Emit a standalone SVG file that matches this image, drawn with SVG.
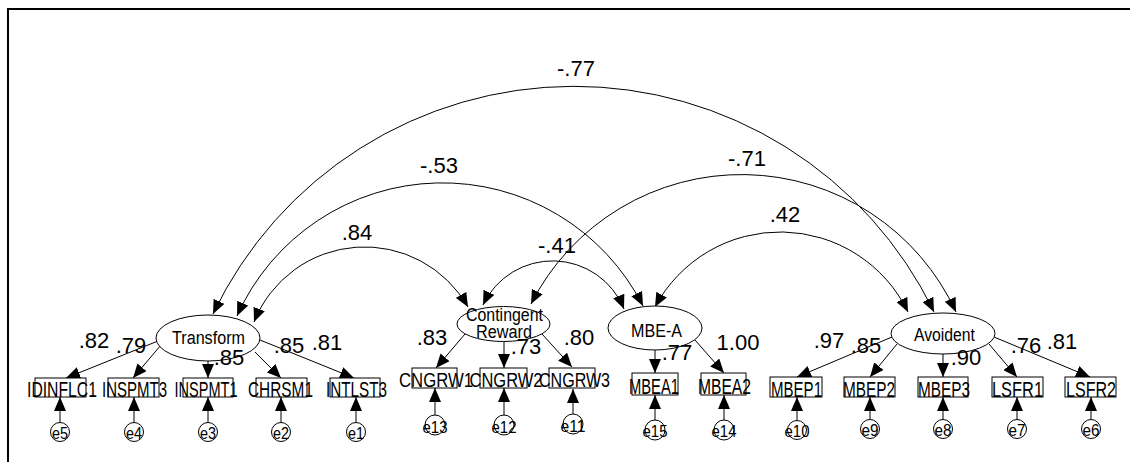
<svg xmlns="http://www.w3.org/2000/svg" width="1130" height="462" viewBox="0 0 1130 462">
  <defs>
    <marker id="ah" viewBox="0 0 14 12" refX="14" refY="6" markerWidth="14" markerHeight="12" markerUnits="userSpaceOnUse" orient="auto-start-reverse">
      <path d="M0,0 L14,6 L0,12 z" fill="#000"/>
    </marker>
    <style>
      text { font-family: "Liberation Sans", Arial, sans-serif; fill: #000; text-anchor: middle; }
      .lat { fill: #fff; stroke: #000; stroke-width: 1; }
      .obs { fill: #fff; stroke: #000; stroke-width: 1; }
      .err { fill: #fff; stroke: #000; stroke-width: 1; }
      .one { fill: none; stroke: #000; stroke-width: 1; marker-end: url(#ah); }
      .two { fill: none; stroke: #000; stroke-width: 1; marker-start: url(#ah); marker-end: url(#ah); }
      .num { font-size: 22px; }
      .ln { font-size: 18px; }
      .on { font-size: 22px; }
      .on2 { font-size: 20px; }
      .en { font-size: 17px; }
    </style>
  </defs>

  <rect width="1130" height="462" fill="#fff"/>
  <!-- frame -->
  <path d="M8,462 V9 H1130" fill="none" stroke="#000" stroke-width="2"/>

  <!-- connectors -->
  <g id="connectors">
    <!-- covariances -->
    <path class="two" d="M213,314 A400,400 0 0 1 934,312"/>
    <path class="two" d="M237,316 A225,225 0 0 1 643,306"/>
    <path class="two" d="M254,322 A119,119 0 0 1 468,307"/>
    <path class="two" d="M483,305 A77,77 0 0 1 624,309"/>
    <path class="two" d="M531,304 A236,236 0 0 1 956,312"/>
    <path class="two" d="M655,307 A142,142 0 0 1 908,312"/>
    <!-- loadings -->
    <line class="one" x1="158" y1="341" x2="66" y2="378"/>
    <line class="one" x1="161" y1="345" x2="133" y2="378"/>
    <line class="one" x1="208" y1="361" x2="208" y2="378"/>
    <line class="one" x1="255" y1="352" x2="281" y2="378"/>
    <line class="one" x1="260" y1="340" x2="354" y2="378"/>
    <line class="one" x1="465" y1="334" x2="436" y2="368"/>
    <line class="one" x1="504" y1="341" x2="504" y2="368"/>
    <line class="one" x1="542" y1="334" x2="572" y2="367"/>
    <line class="one" x1="655" y1="350" x2="655" y2="373"/>
    <line class="one" x1="695" y1="340" x2="724" y2="373"/>
    <line class="one" x1="892" y1="337" x2="797" y2="377"/>
    <line class="one" x1="897" y1="344" x2="870" y2="377"/>
    <line class="one" x1="943" y1="353" x2="943" y2="377"/>
    <line class="one" x1="989" y1="344" x2="1017" y2="377"/>
    <line class="one" x1="994" y1="337" x2="1090" y2="377"/>
    <!-- error terms -->
    <line class="one" x1="60" y1="422.5" x2="60" y2="397"/>
    <line class="one" x1="134" y1="422.5" x2="134" y2="397"/>
    <line class="one" x1="208" y1="422.5" x2="208" y2="397"/>
    <line class="one" x1="281" y1="422.5" x2="281" y2="397"/>
    <line class="one" x1="356" y1="422.5" x2="356" y2="397"/>
    <line class="one" x1="435" y1="415" x2="435" y2="388"/>
    <line class="one" x1="504" y1="415" x2="504" y2="388"/>
    <line class="one" x1="573" y1="414" x2="573" y2="389"/>
    <line class="one" x1="655" y1="420" x2="655" y2="395"/>
    <line class="one" x1="724" y1="420" x2="724" y2="395"/>
    <line class="one" x1="797" y1="420.5" x2="797" y2="397"/>
    <line class="one" x1="870" y1="419.5" x2="870" y2="397"/>
    <line class="one" x1="943" y1="419.5" x2="943" y2="397"/>
    <line class="one" x1="1017" y1="419.5" x2="1017" y2="397"/>
    <line class="one" x1="1091" y1="419.5" x2="1091" y2="397"/>
  </g>

  <!-- covariance values -->
  <g id="cov-labels">
    <text class="num" x="576" y="76">-.77</text>
    <text class="num" x="439" y="173">-.53</text>
    <text class="num" x="747" y="166">-.71</text>
    <text class="num" x="785" y="222">.42</text>
    <text class="num" x="357" y="240">.84</text>
    <text class="num" x="557" y="253">-.41</text>
  </g>

  <!-- latent variables -->
  <g id="transform">
    <ellipse class="lat" cx="208" cy="338" rx="52" ry="23"/>
    <text class="ln" x="208.5" y="344" textLength="73" lengthAdjust="spacingAndGlyphs">Transform</text>
  </g>
  <g id="contingent-reward">
    <ellipse class="lat" cx="503.5" cy="324" rx="46.5" ry="17.5"/>
    <text class="ln" x="504.5" y="321" textLength="77" lengthAdjust="spacingAndGlyphs">Contingent</text>
    <text class="ln" x="504" y="338" textLength="56" lengthAdjust="spacingAndGlyphs">Reward</text>
  </g>
  <g id="mbe-a">
    <ellipse class="lat" cx="655" cy="328" rx="47" ry="22"/>
    <text class="ln" x="656.5" y="337" textLength="51" lengthAdjust="spacingAndGlyphs">MBE-A</text>
  </g>
  <g id="avoident">
    <ellipse class="lat" cx="943" cy="333.5" rx="52" ry="20.5"/>
    <text class="ln" x="944.5" y="341" textLength="61" lengthAdjust="spacingAndGlyphs">Avoident</text>
  </g>

  <!-- observed variables -->
  <g id="idinflc1"><rect class="obs" x="35" y="378" width="51" height="19"/><text class="on" x="62" y="397" textLength="70" lengthAdjust="spacingAndGlyphs">IDINFLC1</text></g>
  <g id="inspmt3"><rect class="obs" x="108" y="378" width="51" height="19"/><text class="on" x="134.5" y="397" textLength="65" lengthAdjust="spacingAndGlyphs">INSPMT3</text></g>
  <g id="inspmt1"><rect class="obs" x="183" y="378" width="50" height="19"/><text class="on" x="206" y="397" textLength="63" lengthAdjust="spacingAndGlyphs">INSPMT1</text></g>
  <g id="chrsm1"><rect class="obs" x="256" y="378" width="51" height="19"/><text class="on" x="280.5" y="397" textLength="65" lengthAdjust="spacingAndGlyphs">CHRSM1</text></g>
  <g id="intlst3"><rect class="obs" x="330" y="378" width="50" height="19"/><text class="on" x="356.5" y="397" textLength="61" lengthAdjust="spacingAndGlyphs">INTLST3</text></g>
  <g id="cngrw1"><rect class="obs" x="412" y="368" width="45" height="20"/><text class="on2" x="436" y="387" textLength="74" lengthAdjust="spacingAndGlyphs">CNGRW1</text></g>
  <g id="cngrw2"><rect class="obs" x="480" y="368" width="47" height="20"/><text class="on2" x="506" y="387" textLength="73" lengthAdjust="spacingAndGlyphs">CNGRW2</text></g>
  <g id="cngrw3"><rect class="obs" x="549" y="368" width="46" height="20"/><text class="on2" x="574.5" y="387" textLength="71" lengthAdjust="spacingAndGlyphs">CNGRW3</text></g>
  <g id="mbea1"><rect class="obs" x="632" y="373" width="46" height="22"/><text class="on" x="654" y="394" textLength="50" lengthAdjust="spacingAndGlyphs">MBEA1</text></g>
  <g id="mbea2"><rect class="obs" x="701" y="373" width="45" height="22"/><text class="on" x="724.5" y="394" textLength="53" lengthAdjust="spacingAndGlyphs">MBEA2</text></g>
  <g id="mbep1"><rect class="obs" x="770" y="377" width="52" height="20"/><text class="on" x="796.5" y="397" textLength="51" lengthAdjust="spacingAndGlyphs">MBEP1</text></g>
  <g id="mbep2"><rect class="obs" x="844" y="377" width="51" height="20"/><text class="on" x="869" y="397" textLength="52" lengthAdjust="spacingAndGlyphs">MBEP2</text></g>
  <g id="mbep3"><rect class="obs" x="918" y="377" width="50" height="20"/><text class="on" x="944" y="397" textLength="52" lengthAdjust="spacingAndGlyphs">MBEP3</text></g>
  <g id="lsfr1"><rect class="obs" x="992" y="377" width="51" height="20"/><text class="on" x="1017.5" y="397" textLength="51" lengthAdjust="spacingAndGlyphs">LSFR1</text></g>
  <g id="lsfr2"><rect class="obs" x="1065" y="377" width="51" height="20"/><text class="on" x="1091" y="397" textLength="50" lengthAdjust="spacingAndGlyphs">LSFR2</text></g>

  <!-- error terms -->
  <g id="e5"><circle class="err" cx="60" cy="432" r="9.5"/><text class="en" x="60" y="438.5" textLength="16" lengthAdjust="spacingAndGlyphs">e5</text></g>
  <g id="e4"><circle class="err" cx="134" cy="432" r="9.5"/><text class="en" x="134" y="438.5" textLength="16" lengthAdjust="spacingAndGlyphs">e4</text></g>
  <g id="e3"><circle class="err" cx="208" cy="432" r="9.5"/><text class="en" x="208" y="438.5" textLength="16" lengthAdjust="spacingAndGlyphs">e3</text></g>
  <g id="e2"><circle class="err" cx="281" cy="432" r="9.5"/><text class="en" x="281" y="438.5" textLength="16" lengthAdjust="spacingAndGlyphs">e2</text></g>
  <g id="e1"><circle class="err" cx="356" cy="432" r="9.5"/><text class="en" x="356" y="438.5" textLength="16" lengthAdjust="spacingAndGlyphs">e1</text></g>
  <g id="e13"><circle class="err" cx="435" cy="425" r="10"/><text class="en" x="435" y="432.5" textLength="25" lengthAdjust="spacingAndGlyphs">e13</text></g>
  <g id="e12"><circle class="err" cx="504" cy="425" r="10"/><text class="en" x="504" y="432.5" textLength="25" lengthAdjust="spacingAndGlyphs">e12</text></g>
  <g id="e11"><circle class="err" cx="573" cy="424" r="10"/><text class="en" x="573" y="431.5" textLength="25" lengthAdjust="spacingAndGlyphs">e11</text></g>
  <g id="e15"><circle class="err" cx="655" cy="430" r="10"/><text class="en" x="655" y="437" textLength="25" lengthAdjust="spacingAndGlyphs">e15</text></g>
  <g id="e14"><circle class="err" cx="724" cy="430" r="10"/><text class="en" x="724" y="437" textLength="25" lengthAdjust="spacingAndGlyphs">e14</text></g>
  <g id="e10"><circle class="err" cx="797" cy="430" r="9.5"/><text class="en" x="797" y="437" textLength="25" lengthAdjust="spacingAndGlyphs">e10</text></g>
  <g id="e9"><circle class="err" cx="870" cy="429" r="9.5"/><text class="en" x="870" y="436" textLength="17" lengthAdjust="spacingAndGlyphs">e9</text></g>
  <g id="e8"><circle class="err" cx="943" cy="429" r="9.5"/><text class="en" x="943" y="436" textLength="17" lengthAdjust="spacingAndGlyphs">e8</text></g>
  <g id="e7"><circle class="err" cx="1017" cy="429" r="9.5"/><text class="en" x="1017" y="436" textLength="17" lengthAdjust="spacingAndGlyphs">e7</text></g>
  <g id="e6"><circle class="err" cx="1091" cy="429" r="9.5"/><text class="en" x="1091" y="436" textLength="17" lengthAdjust="spacingAndGlyphs">e6</text></g>

  <!-- loading values -->
  <g id="loading-labels">
    <text class="num" x="94" y="348">.82</text>
    <text class="num" x="131" y="353">.79</text>
    <text class="num" x="229" y="365">.85</text>
    <text class="num" x="289" y="353">.85</text>
    <text class="num" x="327" y="350">.81</text>
    <text class="num" x="432" y="345">.83</text>
    <text class="num" x="526" y="354">.73</text>
    <text class="num" x="579" y="345">.80</text>
    <text class="num" x="677" y="360">.77</text>
    <text class="num" x="738" y="350">1.00</text>
    <text class="num" x="829" y="348">.97</text>
    <text class="num" x="866" y="353">.85</text>
    <text class="num" x="966" y="365">.90</text>
    <text class="num" x="1026" y="353">.76</text>
    <text class="num" x="1062" y="349">.81</text>
  </g>
</svg>
